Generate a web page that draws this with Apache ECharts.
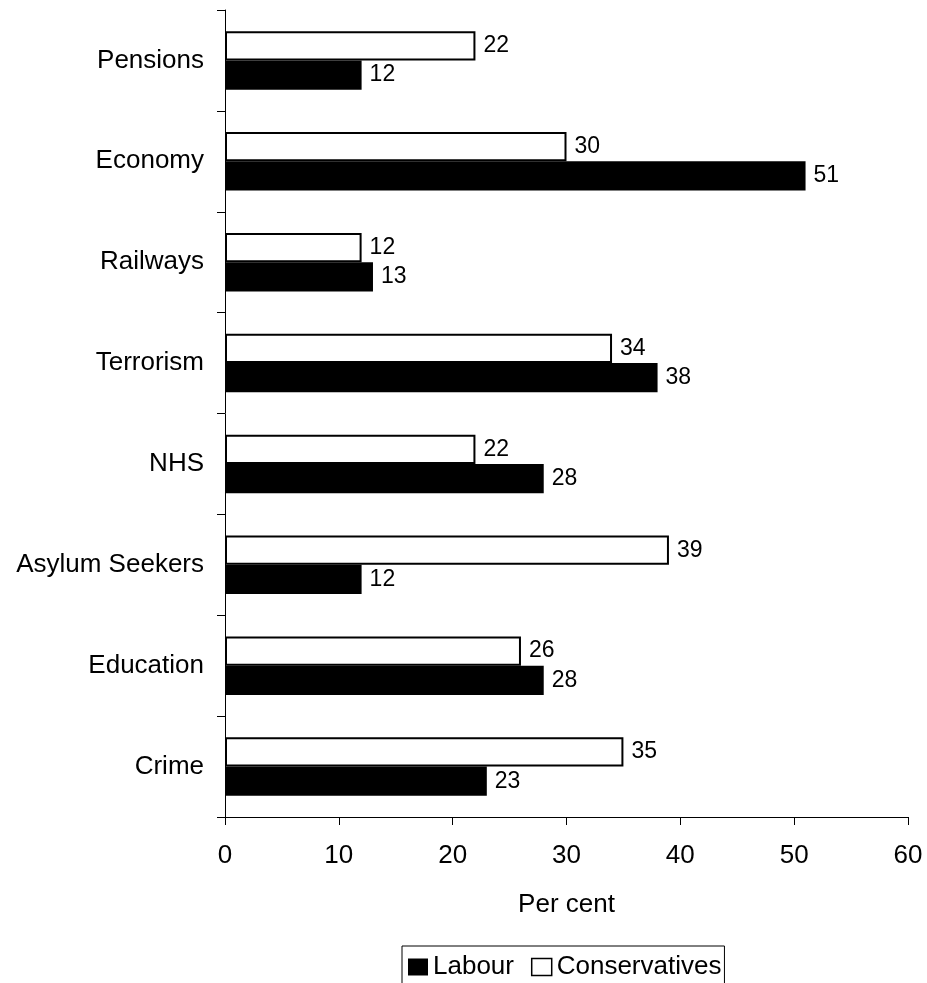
<!DOCTYPE html>
<html>
<head>
<meta charset="utf-8">
<style>
  html, body { margin: 0; padding: 0; background: #fff; }
  #chart { width: 927px; height: 983px; }
</style>
<script src="https://cdn.jsdelivr.net/npm/echarts@6/dist/echarts.min.js"></script>
</head>
<body>
<div id="chart"></div>
<script>
// Issues listed bottom-to-top (category axis starts at the bottom)
const issues = ['Crime', 'Education', 'Asylum Seekers', 'NHS', 'Terrorism', 'Railways', 'Economy', 'Pensions'];
const labour = [23, 28, 12, 28, 38, 13, 51, 12];
const conservatives = [35, 26, 39, 22, 34, 12, 30, 22];
const xTicks = [0, 10, 20, 30, 40, 50, 60];

const FONT = '"Liberation Sans", Arial, sans-serif';

const chart = echarts.init(document.getElementById('chart'), null, { renderer: 'canvas' });

const valueLabel = {
  show: true,
  position: 'right',
  distance: 8,
  color: '#000',
  fontFamily: FONT,
  fontSize: 23
};

chart.setOption({
  backgroundColor: '#fff',
  animation: false,
  textStyle: { fontFamily: FONT, color: '#000' },
  grid: { left: 225, top: 10, width: 683, height: 807, containLabel: false },
  legend: {
    left: 402,
    top: 946,
    orient: 'horizontal',
    borderColor: '#000',
    borderWidth: 1,
    padding: [8, 3, 30, 6],
    itemWidth: 20,
    itemHeight: 17,
    itemGap: 17,
    textStyle: { fontFamily: FONT, fontSize: 26, color: '#000' },
    data: [
      { name: 'Labour', icon: 'rect', itemStyle: { color: '#000', borderWidth: 0 } },
      { name: 'Conservatives', icon: 'rect', itemStyle: { color: '#fff', borderColor: '#000', borderWidth: 1.5 } }
    ]
  },
  xAxis: {
    type: 'value',
    min: xTicks[0],
    max: xTicks[xTicks.length - 1],
    interval: xTicks[1] - xTicks[0],
    name: 'Per cent',
    nameLocation: 'middle',
    nameGap: 75,
    nameTextStyle: { fontFamily: FONT, fontSize: 26, color: '#000' },
    axisLine: { show: true, lineStyle: { color: '#000', width: 1 } },
    axisTick: { show: true, length: 8, lineStyle: { color: '#000' } },
    axisLabel: { margin: 26, fontFamily: FONT, fontSize: 26, color: '#000' },
    splitLine: { show: false }
  },
  yAxis: {
    type: 'category',
    data: issues,
    axisLine: { show: true, lineStyle: { color: '#000', width: 1 } },
    axisTick: { show: true, length: 8, lineStyle: { color: '#000' } },
    axisLabel: { margin: 21, fontFamily: FONT, fontSize: 26, color: '#000' },
    splitLine: { show: false }
  },
  series: [
    // first series sits on top within each band
    {
      name: 'Conservatives',
      type: 'bar',
      data: conservatives,
      barGap: '0%',
      barCategoryGap: '42%',
      itemStyle: { color: '#fff', borderColor: '#000', borderWidth: 2 },
      label: valueLabel
    },
    {
      name: 'Labour',
      type: 'bar',
      data: labour,
      barGap: '0%',
      barCategoryGap: '42%',
      itemStyle: { color: '#000' },
      label: valueLabel
    }
  ]
});
</script>
</body>
</html>
